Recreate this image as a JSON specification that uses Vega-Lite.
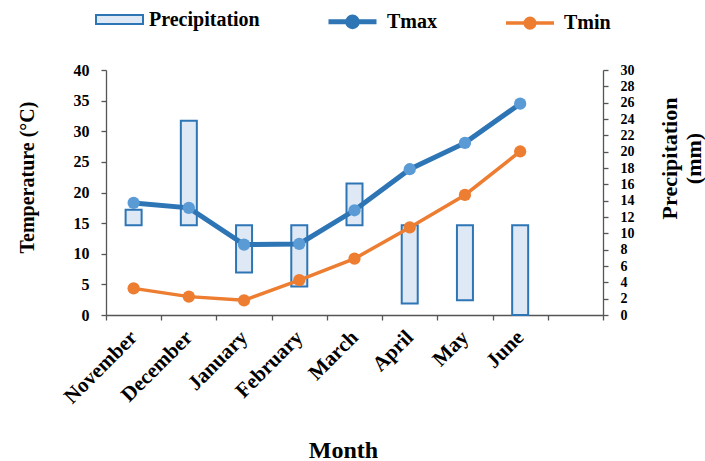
{
  "$schema": "https://vega.github.io/schema/vega-lite/v6.json",
  "width": 497,
  "height": 245,
  "autosize": "none",
  "padding": {"left": 106, "top": 70, "right": 102, "bottom": 146},
  "config": {
    "font": "Liberation Serif",
    "view": {"stroke": null},
    "axis": {
      "labelFont": "Liberation Serif",
      "titleFont": "Liberation Serif",
      "labelFontWeight": "bold",
      "titleFontWeight": "bold",
      "labelColor": "black",
      "titleColor": "black",
      "domainColor": "#555",
      "tickColor": "#555",
      "domainWidth": 1.3,
      "tickWidth": 1.3,
      "grid": false
    },
    "legend": {
      "labelFont": "Liberation Serif",
      "labelFontWeight": "bold",
      "labelFontSize": 20,
      "labelColor": "black",
      "padding": 0
    }
  },
  "data": {
    "values": [
      {"month": "November", "Tmax": 18.3, "Tmin": 4.35, "precip": 12.9},
      {"month": "December", "Tmax": 17.5, "Tmin": 3.0, "precip": 23.8},
      {"month": "January", "Tmax": 11.5, "Tmin": 2.4, "precip": 5.2},
      {"month": "February", "Tmax": 11.6, "Tmin": 5.7, "precip": 3.5},
      {"month": "March", "Tmax": 17.1, "Tmin": 9.2, "precip": 16.1},
      {"month": "April", "Tmax": 23.8, "Tmin": 14.3, "precip": 1.4},
      {"month": "May", "Tmax": 28.1, "Tmin": 19.6, "precip": 1.8},
      {"month": "June", "Tmax": 34.5, "Tmin": 26.7, "precip": 0}
    ]
  },
  "encoding": {
    "x": {
      "field": "month",
      "type": "nominal",
      "sort": null,
      "scale": {"domain": ["November", "December", "January", "February", "March", "April", "May", "June", " "], "paddingInner": 0, "paddingOuter": 0},
      "axis": {
        "title": "Month",
        "titleFontSize": 24,
        "titleX": 237,
        "titleY": 135,
        "titleBaseline": "middle",
        "labelAngle": -45,
        "labelAlign": "right",
        "labelBaseline": "middle",
        "labelFontSize": 21,
        "labelPadding": 14,
        "tickBand": "extent",
        "tickSize": 5
      }
    }
  },
  "layer": [
    {
      "mark": {"type": "bar", "stroke": "#2e75b6", "strokeWidth": 2, "width": 16},
      "encoding": {
        "y": {
          "field": "precip",
          "type": "quantitative",
          "scale": {"domain": [0, 30], "nice": false},
          "axis": {
            "orient": "right",
            "values": [0, 2, 4, 6, 8, 10, 12, 14, 16, 18, 20, 22, 24, 26, 28, 30],
            "labelFontSize": 14,
            "labelPadding": 12,
            "tickSize": 5,
            "title": ["Precipitation", "(mm)"],
            "titleFontSize": 22,
            "titleAngle": -90,
            "titleBaseline": "top",
            "titleAlign": "center",
            "titleLineHeight": 24,
            "titleX": 56,
            "titleY": 88
          }
        },
        "y2": {"datum": 11},
        "color": {
          "datum": "Precipitation",
          "scale": {"range": ["#dfe9f5"]},
          "legend": {
            "title": null,
            "orient": "none",
            "legendX": -11,
            "legendY": -75,
            "symbolType": "M-1,-0.19H1V0.19H-1Z",
            "symbolSize": 2209,
            "symbolStrokeColor": "#2e75b6",
            "symbolStrokeWidth": 2,
            "labelOffset": 5
          }
        }
      }
    },
    {
      "transform": [{"fold": ["Tmax", "Tmin"], "as": ["series", "temp"]}],
      "encoding": {
        "y": {
          "field": "temp",
          "type": "quantitative",
          "scale": {"domain": [0, 40], "nice": false},
          "axis": {
            "values": [0, 5, 10, 15, 20, 25, 30, 35, 40],
            "labelFontSize": 16,
            "labelPadding": 12,
            "tickSize": 5,
            "title": "Temperature (°C)",
            "titleFontSize": 20,
            "titleAngle": -90,
            "titleBaseline": "middle",
            "titleX": -79,
            "titleY": 107
          }
        }
      },
      "layer": [
        {
          "mark": {"type": "line"},
          "encoding": {
            "stroke": {
              "field": "series",
              "type": "nominal",
              "scale": {"domain": ["Tmax", "Tmin"], "range": ["#2e75b6", "#ed7d31"]},
              "legend": {
                "title": null,
                "orient": "none",
                "direction": "horizontal",
                "gridAlign": "all",
                "legendX": 220,
                "legendY": -75,
                "symbolType": "M-1,0H1M0.2,0A0.2,0.2 0 1 1 -0.2,0A0.2,0.2 0 1 1 0.2,0Z",
                "symbolSize": 2304,
                "symbolStrokeWidth": 4,
                "labelOffset": 8,
                "columnPadding": 62
              }
            },
            "strokeWidth": {
              "field": "series",
              "type": "nominal",
              "scale": {"domain": ["Tmax", "Tmin"], "range": [5, 3.5]},
              "legend": null
            }
          }
        },
        {
          "mark": {"type": "point", "filled": true, "size": 150, "opacity": 1},
          "encoding": {
            "fill": {
              "field": "series",
              "type": "nominal",
              "scale": {"domain": ["Tmax", "Tmin"], "range": ["#5b9bd5", "#ed7d31"]},
              "legend": {
                "title": null,
                "orient": "none",
                "direction": "horizontal",
                "gridAlign": "all",
                "legendX": 220,
                "legendY": -75,
                "symbolType": "M-1,0H1M0.2,0A0.2,0.2 0 1 1 -0.2,0A0.2,0.2 0 1 1 0.2,0Z",
                "symbolSize": 2304,
                "symbolStrokeWidth": 4,
                "labelOffset": 8,
                "columnPadding": 62
              }
            }
          }
        }
      ]
    }
  ],
  "resolve": {"scale": {"y": "independent"}}
}
